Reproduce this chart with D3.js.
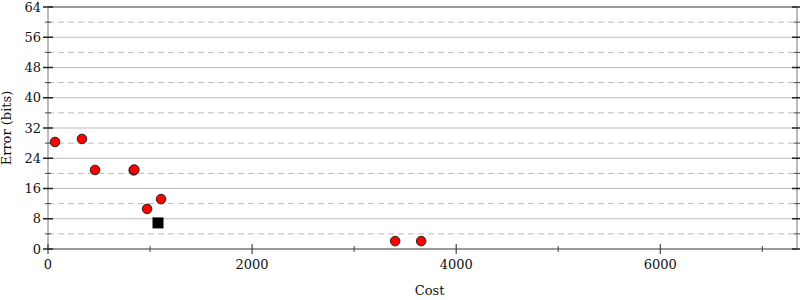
<!DOCTYPE html>
<html>
<head>
<meta charset="utf-8">
<script src="https://cdn.jsdelivr.net/npm/d3@7"></script>
<style>
  body { margin: 0; background: #fff; }
  svg { font-family: "DejaVu Serif", serif; }
</style>
</head>
<body>
<svg id="chart" width="800" height="300"></svg>
<script>
// alternative programs: cost vs error
const altCost = [69, 333, 461, 840, 846, 971, 1108, 3402, 3657];
const altError = [28.3, 29.1, 20.9, 20.8, 21.0, 10.6, 13.2, 2.1, 2.1];
// initial program
const startCost = [1078];
const startError = [6.9];

const xTicks = [0, 2000, 4000, 6000];
const xMinor = [1000, 3000, 5000, 7000];
const yTicks = [0, 8, 16, 24, 32, 40, 48, 56, 64];
const yMinor = [4, 12, 20, 28, 36, 44, 52, 60];

const margin = { top: 7, right: 3, bottom: 51, left: 48 };
const width = 800 - margin.left - margin.right;
const height = 300 - margin.top - margin.bottom;

const svg = d3.select('#chart');
const g = svg.append('g')
  .attr('transform', 'translate(' + margin.left + ',' + margin.top + ')');

const x = d3.scaleLinear().domain([0, 7340]).range([0, width]);
const y = d3.scaleLinear().domain([0, 64]).range([height, 0]);

// grid
g.selectAll('.grid-major')
  .data(yTicks.slice(1, -1))
  .enter().append('line')
  .attr('x1', 0).attr('x2', width)
  .attr('y1', d => y(d)).attr('y2', d => y(d))
  .attr('stroke', '#bbb').attr('stroke-width', 1);

g.selectAll('.grid-minor')
  .data(yMinor)
  .enter().append('line')
  .attr('x1', 0).attr('x2', width)
  .attr('y1', d => y(d)).attr('y2', d => y(d))
  .attr('stroke', '#bbb').attr('stroke-width', 1)
  .attr('stroke-dasharray', '6,4');

// frame
g.append('line').attr('x1', 0).attr('x2', width).attr('y1', 0).attr('y2', 0)
  .attr('stroke', '#999').attr('stroke-width', 2);
g.append('line').attr('x1', 0).attr('x2', width).attr('y1', height).attr('y2', height)
  .attr('stroke', '#999').attr('stroke-width', 2);
g.append('line').attr('x1', 0).attr('x2', 0).attr('y1', 0).attr('y2', height)
  .attr('stroke', '#bbb').attr('stroke-width', 2);
g.append('line').attr('x1', width).attr('x2', width).attr('y1', 0).attr('y2', height)
  .attr('stroke', '#bbb').attr('stroke-width', 2);

// y ticks, left and right
[0, width].forEach(x0 => {
  g.selectAll(null).data(yTicks).enter().append('line')
    .attr('x1', x0 - 5).attr('x2', x0 + 5)
    .attr('y1', d => y(d)).attr('y2', d => y(d))
    .attr('stroke', '#222').attr('stroke-width', 1.5);
  g.selectAll(null).data(yMinor).enter().append('line')
    .attr('x1', x0 - 3).attr('x2', x0 + 3)
    .attr('y1', d => y(d)).attr('y2', d => y(d))
    .attr('stroke', '#444').attr('stroke-width', 1);
});

// x ticks
g.selectAll(null).data(xTicks).enter().append('line')
  .attr('x1', d => x(d)).attr('x2', d => x(d))
  .attr('y1', height - 5).attr('y2', height + 5)
  .attr('stroke', '#222').attr('stroke-width', 1);
g.selectAll(null).data(xMinor).enter().append('line')
  .attr('x1', d => x(d)).attr('x2', d => x(d))
  .attr('y1', height - 3).attr('y2', height + 3)
  .attr('stroke', '#444').attr('stroke-width', 1);

// tick labels
g.selectAll(null).data(yTicks).enter().append('text')
  .attr('x', -7).attr('y', d => y(d)).attr('dy', '0.35em')
  .attr('text-anchor', 'end').attr('font-size', 13).attr('fill', '#111')
  .text(d => d);
g.selectAll(null).data(xTicks).enter().append('text')
  .attr('x', d => x(d)).attr('y', height + 20)
  .attr('text-anchor', 'middle').attr('font-size', 13).attr('fill', '#111')
  .text(d => d);

// axis titles
g.append('text')
  .attr('x', x(3740)).attr('y', height + 46)
  .attr('text-anchor', 'middle').attr('font-size', 13).attr('fill', '#111')
  .text('Cost');
g.append('text')
  .attr('transform', 'translate(' + (-37) + ',' + (height / 2) + ') rotate(-90)')
  .attr('text-anchor', 'middle').attr('font-size', 13).attr('fill', '#111')
  .text('Error (bits)');

// points
const alts = altCost.map((c, i) => ({ cost: c, error: altError[i] }));
g.selectAll('.alt').data(alts).enter().append('circle')
  .attr('cx', d => x(d.cost)).attr('cy', d => y(d.error)).attr('r', 4.8)
  .attr('fill', 'red').attr('stroke', '#222').attr('stroke-width', 1);

const starts = startCost.map((c, i) => ({ cost: c, error: startError[i] }));
g.selectAll('.start').data(starts).enter().append('rect')
  .attr('x', d => x(d.cost) - 5.5).attr('y', d => y(d.error) - 5.5)
  .attr('width', 11).attr('height', 11)
  .attr('fill', '#000');
</script>
</body>
</html>
